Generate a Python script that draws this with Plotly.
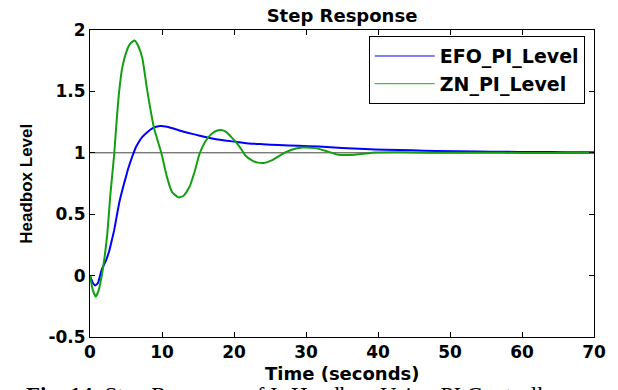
import plotly.graph_objects as go

# ---- data ----
t_zn = [0, 0.4, 0.8, 1.2, 1.75, 2.4, 2.8, 3.36, 3.7, 4.05, 4.5, 5.1, 5.6, 6.2, 6.7,
        7.27, 7.97, 8.9, 9.9, 10.7, 11.4, 12.3, 13.0, 13.8, 14.6, 15.2, 16.0, 16.8,
        17.6, 18.2, 18.9, 19.6, 20.3, 21.0, 21.6, 22.6, 23.3, 24.3, 25.3, 26.7, 28.0,
        29.5, 31.3, 32.8, 34.5, 36.8, 39.6, 42, 45, 50, 55, 60, 65, 70]
v_zn = [0, -0.12, -0.17, -0.12, 0.04, 0.34, 0.64, 0.99, 1.26, 1.5, 1.70, 1.83, 1.89,
        1.915, 1.87, 1.77, 1.5, 1.2, 1.0, 0.8, 0.68, 0.637, 0.65, 0.72, 0.86, 0.99,
        1.09, 1.15, 1.18, 1.185, 1.17, 1.13, 1.084, 1.03, 0.976, 0.935, 0.92, 0.918,
        0.94, 0.99, 1.025, 1.043, 1.038, 1.015, 0.984, 0.984, 1.002, 1.005, 1.002,
        1.0, 1.0, 0.999, 0.999, 0.999]

t_efo = [0, 0.4, 0.75, 1.1, 1.66, 2.2, 2.67, 3.0, 3.36, 3.7, 4.05, 4.5, 4.97, 5.3,
         5.66, 6.0, 6.35, 6.8, 7.27, 8.0, 8.66, 9.3, 9.8, 10.5, 11.5, 12.9, 14.5, 16,
         17.5, 19, 20.5, 22.1, 24, 26.2, 29, 31.8, 35, 38.2, 41, 44.7, 48, 53.9, 57.3,
         62, 66, 70]
v_efo = [0, -0.06, -0.08, -0.06, 0.054, 0.12, 0.2, 0.28, 0.37, 0.48, 0.59, 0.70,
         0.80, 0.87, 0.935, 0.99, 1.043, 1.09, 1.13, 1.17, 1.198, 1.214, 1.218, 1.215,
         1.2, 1.173, 1.15, 1.128, 1.11, 1.098, 1.088, 1.076, 1.07, 1.063, 1.057, 1.051,
         1.04, 1.03, 1.025, 1.02, 1.015, 1.01, 1.008, 1.006, 1.005, 1.004]

x_ticks = [0, 10, 20, 30, 40, 50, 60, 70]
x_ticktext = ["0", "10", "20", "30", "40", "50", "60", "70"]
y_ticks = [-0.5, 0, 0.5, 1, 1.5, 2]
y_ticktext = ["-0.5", "0", "0.5", "1", "1.5", "2"]
reference_level = 1

series_names = ["EFO_PI_Level", "ZN_PI_Level"]
BLUE = "#0000FF"
GREEN = "#12A012"

FONT = "DejaVu Sans"

fig = go.Figure()

fig.add_hline(y=reference_level, line=dict(color="#444444", width=1), layer="below")

fig.add_trace(go.Scatter(x=t_efo, y=v_efo, mode="lines", showlegend=False,
                         line=dict(color=BLUE, width=2, shape="spline", smoothing=0.4)))
fig.add_trace(go.Scatter(x=t_zn, y=v_zn, mode="lines", showlegend=False,
                         line=dict(color=GREEN, width=2, shape="spline", smoothing=0.5)))
# legend entries (thin lines as in the reference)
fig.add_trace(go.Scatter(x=[None], y=[None], mode="lines", name=series_names[0],
                         line=dict(color=BLUE, width=1)))
fig.add_trace(go.Scatter(x=[None], y=[None], mode="lines", name=series_names[1],
                         line=dict(color="#00C000", width=1)))

axis_common = dict(showline=True, linecolor="black", linewidth=1, mirror="ticks",
                   ticks="inside", ticklen=5, tickcolor="black", showgrid=False,
                   zeroline=False,
                   tickfont=dict(family=FONT, size=17, color="black", weight="bold"))

fig.update_xaxes(range=[0, 70], tickvals=x_ticks, ticktext=x_ticktext, **axis_common)
fig.update_yaxes(range=[-0.5, 2], tickvals=y_ticks, ticktext=y_ticktext, **axis_common)

fig.update_layout(
    width=618, height=390,
    margin=dict(l=90, r=22, t=30, b=53),
    paper_bgcolor="white", plot_bgcolor="white",
    title=dict(text="Step Response", x=0.5, xref="paper", xanchor="center",
               y=0.9603, yref="container", yanchor="middle",
               font=dict(family=FONT, size=18, color="black", weight="bold")),
    legend=dict(x=0.9816, xanchor="right", y=0.98, yanchor="top",
                bordercolor="black", borderwidth=1, bgcolor="white",
                itemwidth=60,
                font=dict(family=FONT, size=19, color="black", weight="bold"),
                tracegroupgap=0),
    annotations=[
        dict(text="Time (seconds)", xref="paper", yref="paper", x=0.5, y=-0.12,
             xanchor="center", yanchor="middle", showarrow=False,
             font=dict(family=FONT, size=18, color="black", weight="bold")),
        dict(text="Headbox Level", xref="paper", yref="paper", x=-0.1265, y=0.5,
             xanchor="center", yanchor="middle", textangle=-90, showarrow=False,
             font=dict(family="Liberation Sans", size=17, color="black", weight="bold")),
        dict(text="<b>Fig. 14</b>: Step Response of Ir Headbox Using PI Controller",
             xref="paper", yref="paper", x=0.405, y=-0.143, xanchor="center",
             yanchor="top", showarrow=False,
             font=dict(family="Liberation Serif", size=23, color="black")),
    ],
)

fig.write_html("out.html")
